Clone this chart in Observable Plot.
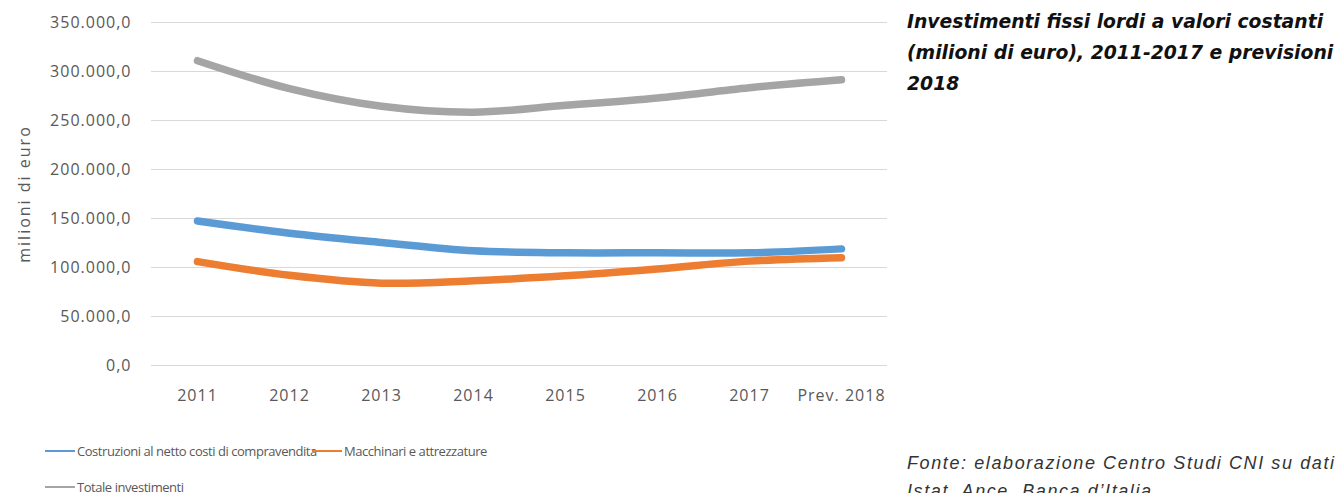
<!DOCTYPE html>
<html>
<head>
<meta charset="utf-8">
<script src="https://cdn.jsdelivr.net/npm/d3@7"></script>
<script src="https://cdn.jsdelivr.net/npm/@observablehq/plot@0.6"></script>
<style>
  html, body { margin: 0; padding: 0; background: #fff; }
  body { width: 1342px; height: 493px; position: relative; overflow: hidden; }
  #chart { position: absolute; left: 0; top: 0; }
  #title { position: absolute; left: 907px; top: 6px; font-family: "DejaVu Sans", sans-serif; font-weight: bold; font-style: italic; font-size: 18.8px; line-height: 31px; color: #111; white-space: nowrap; }
  #caption { position: absolute; left: 907px; top: 449px; font-family: "Liberation Sans", Arial, sans-serif; font-style: italic; font-size: 18px; letter-spacing: 1.6px; line-height: 28px; color: #333; white-space: nowrap; }
  #legend { position: absolute; left: 45px; top: 440px; font-family: "Open Sans", sans-serif; font-size: 13px; letter-spacing: -0.45px; color: #595959; width: 700px; }
  .item { position: absolute; white-space: nowrap; display: flex; align-items: center; height: 22px; }
  .sw { display: inline-block; width: 30px; height: 2px; margin-right: 2px; }
</style>
</head>
<body>
<div id="chart"></div>
<div id="title">Investimenti fissi lordi a valori costanti<br>(milioni di euro), 2011-2017 e previsioni<br>2018</div>
<div id="legend"></div>
<div id="caption">Fonte: elaborazione Centro Studi CNI su dati<br>Istat, Ance, Banca d’Italia</div>
<script>
const categories = ["2011", "2012", "2013", "2014", "2015", "2016", "2017", "Prev. 2018"];
const seriesNames = ["Costruzioni al netto costi di compravendita", "Macchinari e attrezzature", "Totale investimenti"];
const costruzioni = [147500, 135000, 125500, 117000, 115000, 115000, 115000, 119000];
const macchinari = [106000, 92000, 84000, 86500, 91500, 98500, 106500, 110000];
const totale = [311000, 282500, 264500, 258500, 265500, 273000, 283500, 291500];
const yTicks = [0, 50000, 100000, 150000, 200000, 250000, 300000, 350000];
const colors = ["#5b9bd5", "#ed7d31", "#a5a5a5"];

const seriesValues = [costruzioni, macchinari, totale];
const data = [];
seriesNames.forEach((s, i) => categories.forEach((c, j) => data.push({series: s, cat: c, value: seriesValues[i][j]})));

const itFmt = d3.formatLocale({decimal: ",", thousands: ".", grouping: [3], currency: ["", "€"]}).format(",.1f");

const chart = Plot.plot({
  width: 890,
  height: 420,
  marginLeft: 151,
  marginRight: 3,
  marginTop: 22,
  marginBottom: 55,
  style: {fontFamily: "Open Sans, sans-serif", fontSize: "16px", letterSpacing: "1px", color: "#595959", background: "transparent"},
  x: {type: "point", domain: categories, padding: 0.5, label: null},
  y: {domain: [0, 350000], label: null},
  color: {domain: seriesNames, range: colors},
  marks: [
    Plot.ruleY(yTicks, {stroke: "#d9d9d9", strokeWidth: 1.2}),
    Plot.axisY({ticks: yTicks, tickFormat: itFmt, tickSize: 0, tickPadding: 20, label: "milioni di euro", labelAnchor: "center", labelOffset: 133, labelArrow: "none", fill: "#595959"}),
    Plot.axisX({tickSize: 0, tickPadding: 24, label: null, fill: "#595959"}),
    Plot.line(data, {x: "cat", y: "value", z: "series", stroke: "series", strokeWidth: 7.5, strokeLinecap: "round", strokeLinejoin: "round", curve: "catmull-rom"})
  ]
});
document.getElementById("chart").appendChild(chart);
d3.select(chart).selectAll('[aria-label="y-axis label"]').style("font-size", "16px").style("letter-spacing", "2px");

const legend = document.getElementById("legend");
const pos = [[0, 0], [267, 0], [0, 36]];
seriesNames.forEach((s, i) => {
  const d = document.createElement("div");
  d.className = "item";
  d.style.left = pos[i][0] + "px";
  d.style.top = pos[i][1] + "px";
  d.innerHTML = `<span class="sw" style="background:${colors[i]}"></span><span>${s}</span>`;
  legend.appendChild(d);
});
</script>
</body>
</html>
